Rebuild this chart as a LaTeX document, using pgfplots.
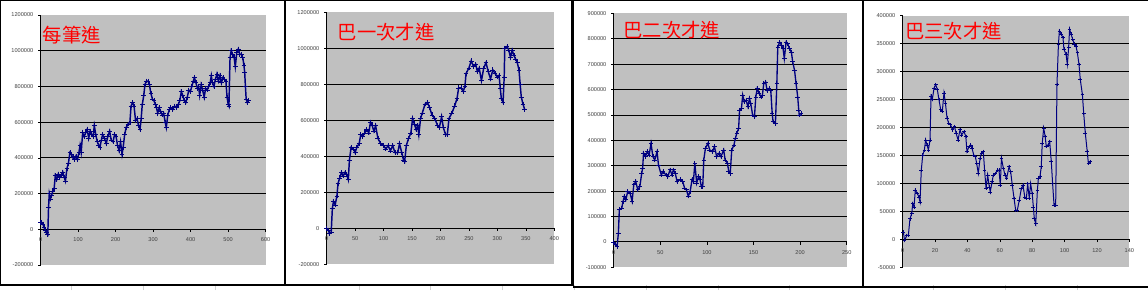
\documentclass[border=0pt]{standalone}
\usepackage{pgfplots}
\pgfplotsset{compat=1.18}
\usepackage{fontspec}
\setmainfont{Liberation Sans}
\newfontfamily\cjk{Noto Sans CJK TC}
\definecolor{plotgray}{RGB}{192,192,192}
\definecolor{navyline}{RGB}{0,0,128}
\pgfplotsset{
  excel/.style={
    scale only axis,
    anchor=south west,
    axis background/.style={fill=plotgray},
    axis x line*=middle,
    axis y line*=left,
    hide obscured x ticks=false,
    hide obscured y ticks=false,
    axis line style={black, line width=0.7pt},
    tick style={black, line width=0.45pt},
    major tick length=2pt,
    tick align=outside,
    tick label style={font=\fontsize{4.2}{5}\selectfont, text=black!75},
    xticklabel style={yshift=-1pt},
    /pgf/number format/assume math mode=true,
    /pgf/number format/fixed,
    /pgf/number format/1000 sep={},
    scaled ticks=false,
    extra y tick labels={},
    extra y tick style={grid=major, major tick length=0pt, major grid style={black, line width=0.6pt}},
    clip=false,
  },
  ser/.style={navyline, line width=1.1pt, mark=+, mark size=1.8pt, mark options={line width=0.55pt}},
}
\tikzset{ttl/.style={anchor=north west, inner sep=0pt, text=red, font=\cjk\fontsize{14.5}{15}\selectfont}}
\begin{document}
\begin{tikzpicture}
\useasboundingbox (0,0) rectangle (861pt,217.5pt);
\fill[white] (0,0) rectangle (861pt,217.5pt);
% faint sheet gridlines
\foreach \xx in {71.8,143.6,215.4,358.9,430.7,502.5,574.3,646.1,717.9,789.7,933.3,1005.1,1076.9}
  \draw[black!18, line width=0.6pt] (\xx*0.75pt,0) -- (\xx*0.75pt,4pt);
% frames
\draw[line width=1.1pt] (0.4pt,3.75pt) rectangle (213.75pt,217.1pt);
\draw[line width=1.1pt] (214.1pt,3.75pt) rectangle (429pt,217.1pt);
\draw[line width=1.1pt] (430.1pt,2.25pt) rectangle (647.25pt,217.1pt);
\draw[line width=1.1pt] (870pt,217.1pt) -- (647.6pt,217.1pt) -- (647.6pt,2.25pt) -- (870pt,2.25pt);

% ---------- chart 1
\begin{axis}[excel, at={(30.5pt,18.75pt)}, width=168.75pt, height=187.5pt,
  xmin=0, xmax=600, ymin=-200000, ymax=1200000,
  xtick={0,100,...,600}, ytick={-200000,0,...,1200000},
  extra y ticks={200000,400000,...,1000000}]
\addplot[ser] coordinates {(0,40000)(3,38000)(6,30000)(9,10000)(12,-5000)(15,-20000)(19,-30000)(21,120000)(23,200000)(26,170000)(29,190000)(32,210000)(36,230000)(39,300000)(43,280000)(47,310000)(51,290000)(55,300000)(59,320000)(63,290000)(66,270000)(70,340000)(74,370000)(78,430000)(82,420000)(86,400000)(90,390000)(94,410000)(98,390000)(102,430000)(105,470000)(108,430000)(112,540000)(116,520000)(120,540000)(124,560000)(128,510000)(132,550000)(136,530000)(140,520000)(143,580000)(147,530000)(151,490000)(155,470000)(158,460000)(162,500000)(165,530000)(170,510000)(175,480000)(179,520000)(184,550000)(188,500000)(193,490000)(197,530000)(201,520000)(205,470000)(209,440000)(213,490000)(217,420000)(220,460000)(224,530000)(228,570000)(233,590000)(238,600000)(241,690000)(245,710000)(249,690000)(253,610000)(257,620000)(261,580000)(265,560000)(268,620000)(271,700000)(275,750000)(278,810000)(282,830000)(286,830000)(290,810000)(294,760000)(298,730000)(302,720000)(306,700000)(309,680000)(312,650000)(316,680000)(320,660000)(324,640000)(328,650000)(332,600000)(335,570000)(339,640000)(343,670000)(347,680000)(352,670000)(357,690000)(362,680000)(367,700000)(371,720000)(375,770000)(379,750000)(383,720000)(387,710000)(391,740000)(395,780000)(399,770000)(403,800000)(407,830000)(410,850000)(414,820000)(418,790000)(421,800000)(424,750000)(428,810000)(432,780000)(436,740000)(440,790000)(444,780000)(448,800000)(452,820000)(455,860000)(458,820000)(462,800000)(466,840000)(470,870000)(474,830000)(478,860000)(482,820000)(486,850000)(490,840000)(494,830000)(497,740000)(500,700000)(502,690000)(505,960000)(508,1000000)(512,980000)(516,960000)(519,910000)(523,990000)(527,1010000)(531,980000)(535,980000)(539,960000)(542,920000)(544,880000)(546,800000)(548,730000)(551,710000)(554,720000)};
\node[ttl] at (rel axis cs:0.009,0.955) {每筆進};
\end{axis}

% ---------- chart 2
\begin{axis}[excel, at={(245pt,19.3pt)}, width=170.7pt, height=189pt,
  xmin=0, xmax=400, ymin=-200000, ymax=1200000,
  xtick={0,50,...,400}, ytick={-200000,0,...,1200000},
  extra y ticks={200000,400000,...,1000000}]
\addplot[ser] coordinates {(0,0)(3,-10000)(5,-30000)(8,-20000)(10,110000)(12,150000)(15,130000)(18,180000)(20,250000)(23,280000)(26,310000)(29,290000)(32,310000)(35,300000)(38,270000)(40,380000)(43,450000)(47,440000)(50,420000)(53,450000)(57,470000)(60,520000)(63,510000)(67,530000)(70,550000)(74,530000)(77,590000)(80,570000)(83,540000)(86,570000)(90,500000)(95,470000)(100,460000)(104,440000)(108,460000)(112,430000)(116,460000)(120,420000)(125,420000)(128,470000)(132,420000)(135,380000)(137,370000)(140,460000)(144,500000)(148,530000)(151,610000)(154,580000)(157,550000)(160,570000)(162,520000)(165,610000)(168,640000)(173,690000)(177,700000)(181,670000)(185,630000)(190,610000)(195,570000)(198,560000)(202,620000)(205,560000)(209,520000)(212,520000)(215,610000)(220,640000)(225,680000)(229,720000)(232,780000)(236,780000)(240,760000)(243,790000)(245,860000)(250,890000)(254,930000)(258,900000)(262,910000)(265,870000)(268,890000)(272,820000)(276,890000)(280,920000)(284,870000)(288,830000)(292,880000)(296,860000)(300,840000)(303,850000)(305,780000)(307,720000)(310,700000)(312,840000)(313,1000000)(317,1010000)(320,990000)(323,950000)(326,990000)(329,960000)(332,940000)(335,920000)(338,880000)(340,800000)(342,730000)(345,690000)(348,660000)};
\node[ttl] at (rel axis cs:0.048,0.957) {巴一次才進};
\end{axis}

% ---------- chart 3
\begin{axis}[excel, at={(460.3pt,17pt)}, width=174.75pt, height=190.5pt,
  xmin=0, xmax=250, ymin=-100000, ymax=900000,
  xtick={0,50,...,250}, ytick={-100000,0,...,900000},
  extra y ticks={100000,200000,...,800000}]
\addplot[ser, line width=1pt, mark size=1.7pt] coordinates {(0,0)(1.4,-10000)(3.6,-17000)(5,35000)(6,127000)(8.6,133000)(10,160000)(11.4,180000)(13,166000)(15,199000)(17.5,192000)(19.7,160000)(21.5,225000)(23.6,238000)(25.8,205000)(28,218000)(30,270000)(31,290000)(32,350000)(34,336000)(36,355000)(38,342000)(40,388000)(42,336000)(44,323000)(46.5,355000)(48,303000)(51,264000)(53,277000)(56,264000)(58,258000)(60.5,284000)(62.5,264000)(64,284000)(66,270000)(68,238000)(71,245000)(74,238000)(76,212000)(78,205000)(80,180000)(82,199000)(84,245000)(85.5,238000)(87,310000)(89,232000)(91,258000)(92.6,245000)(94,218000)(95.5,218000)(96.6,323000)(98.4,369000)(101,388000)(103,362000)(106,355000)(108,375000)(110.5,336000)(113,349000)(115,336000)(118,362000)(119.5,323000)(122,310000)(123.4,277000)(125,270000)(126.6,362000)(129,382000)(130.5,408000)(132,427000)(134,447000)(135,519000)(137,525000)(138.4,578000)(140,552000)(142,558000)(144,532000)(145.6,565000)(147,545000)(149,500000)(151,493000)(152.4,571000)(154,604000)(156,585000)(158,571000)(159.5,578000)(161,624000)(163,630000)(164.5,597000)(166.7,604000)(168.5,597000)(170,506000)(171,473000)(173.5,467000)(175,624000)(176,767000)(178,787000)(180,774000)(181.7,761000)(183,722000)(185,787000)(186.7,780000)(188.5,761000)(190.6,748000)(192,709000)(194,676000)(195.6,624000)(197.4,571000)(198.5,519000)(199,500000)(201,506000)};
\node[ttl] at (rel axis cs:0.041,0.968) {巴二次才進};
\end{axis}

% ---------- chart 4
\begin{axis}[excel, at={(677pt,17pt)}, width=170pt, height=188.7pt,
  xmin=0, xmax=140, ymin=-50000, ymax=400000,
  xtick={0,20,...,140}, ytick={-50000,0,...,400000},
  extra y ticks={50000,100000,...,350000}]
\addplot[ser, line width=0.75pt, mark size=1.4pt, mark options={line width=0.45pt}] coordinates {(0.4,13000)(1.2,-2000)(2.5,7000)(3.5,7000)(4.5,37000)(5.6,46000)(6.2,64000)(7,58000)(7.8,88000)(9,82000)(10,76000)(10.7,67000)(11.5,124000)(12.4,151000)(13.4,160000)(14.2,178000)(15,169000)(15.9,160000)(16.9,178000)(17.5,256000)(18.3,250000)(19.4,271000)(20.4,277000)(21.4,268000)(22.4,250000)(23.5,232000)(24.5,229000)(25.5,262000)(26.4,244000)(27.4,217000)(28.4,208000)(29.6,205000)(30.7,196000)(32,202000)(33,190000)(34.2,178000)(35.4,196000)(36.4,187000)(37.9,193000)(39,184000)(39.7,157000)(41,166000)(42,169000)(42.8,163000)(43.9,151000)(44.9,148000)(45.7,136000)(46.7,118000)(47.8,145000)(48.6,154000)(49.8,157000)(50.6,124000)(51.5,91000)(52.5,115000)(53.5,94000)(54.1,85000)(55.2,103000)(56,115000)(57.4,118000)(58.5,124000)(59.5,124000)(60.3,97000)(61,145000)(62.2,127000)(63.2,115000)(64.2,109000)(65.7,130000)(66.7,121000)(67.7,97000)(68.8,73000)(69.8,52000)(70.8,52000)(72,70000)(73.3,91000)(74.3,97000)(75.4,76000)(76.4,73000)(77.2,100000)(78.2,73000)(79,100000)(80,82000)(80.7,58000)(81.3,37000)(82.2,28000)(83.2,88000)(83.8,109000)(84.8,112000)(85.6,130000)(86.2,172000)(87.1,199000)(88,184000)(88.7,166000)(89.8,169000)(90.8,175000)(91.8,139000)(92.6,100000)(93.5,61000)(94.5,61000)(95.3,277000)(96.2,349000)(96.8,373000)(97.8,367000)(99,361000)(99.6,340000)(100.9,331000)(101.7,313000)(102.5,343000)(103.1,376000)(104,367000)(105,358000)(106,349000)(107,346000)(107.9,334000)(108.9,313000)(109.7,286000)(111,259000)(111.8,226000)(112.8,190000)(114,157000)(114.7,136000)(115.7,139000)};
\node[ttl] at (rel axis cs:0.01,0.975) {巴三次才進};
\end{axis}
\end{tikzpicture}
\end{document}
